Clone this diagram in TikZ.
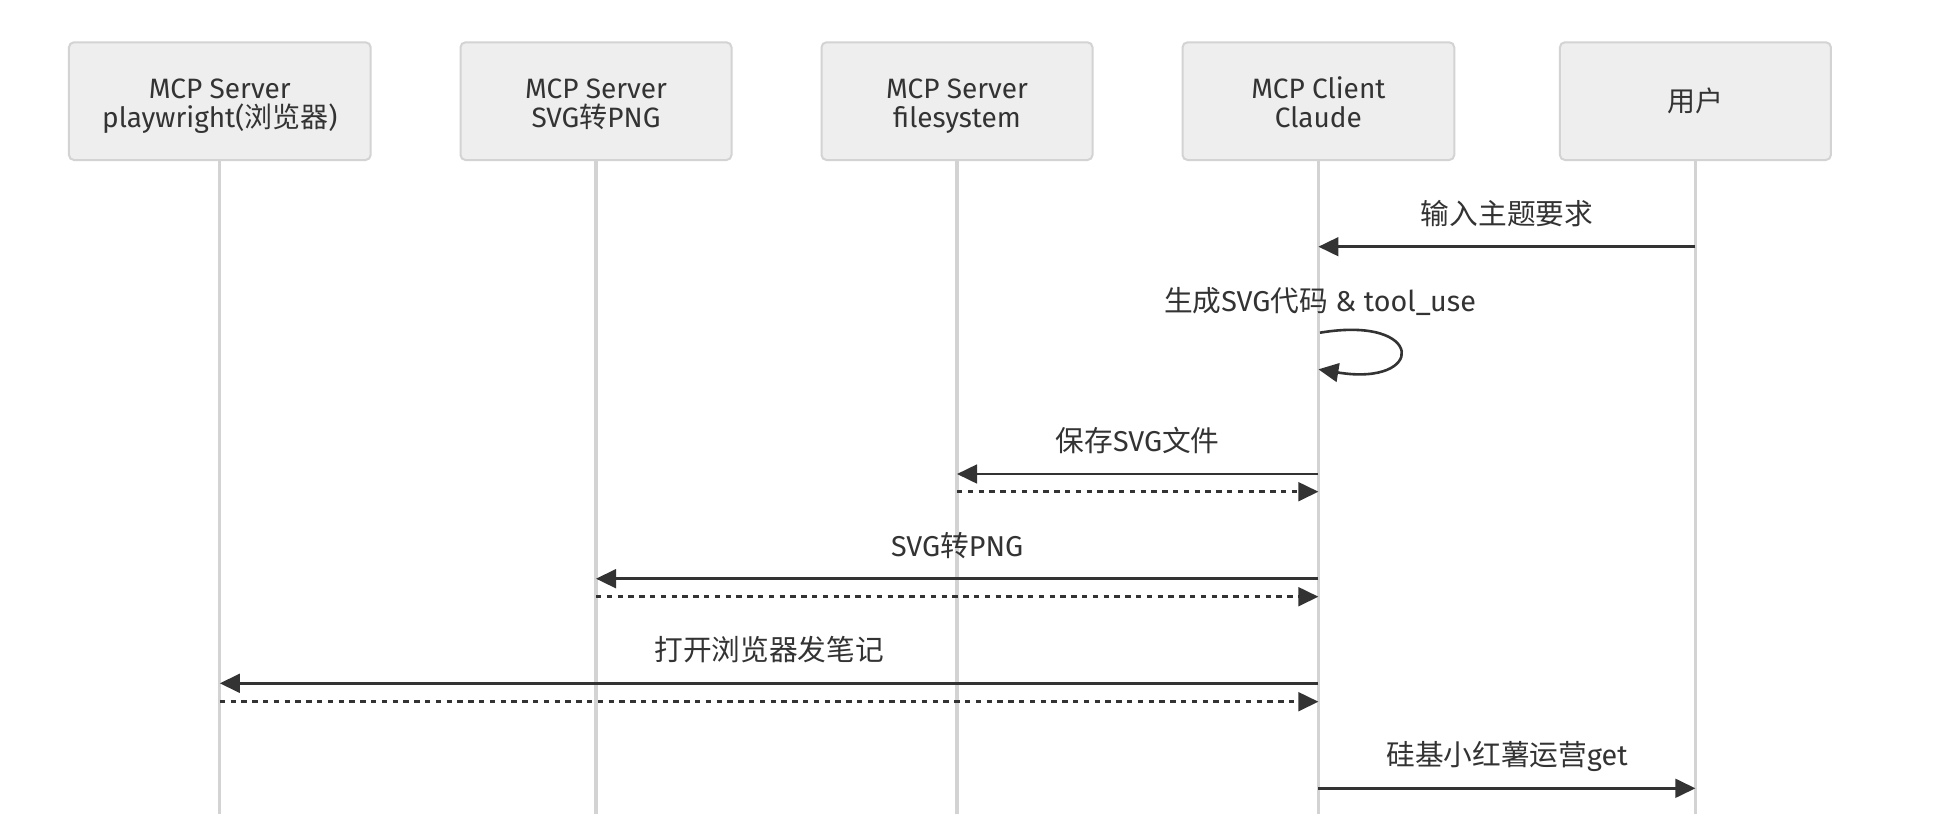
\documentclass[tikz,border=0pt]{standalone}
\usepackage{fontspec}
\setmainfont{Fira Sans}
\newfontfamily\cjk{Noto Sans CJK SC}
\usetikzlibrary{arrows.meta}
\definecolor{boxfill}{HTML}{EEEEEE}
\definecolor{boxline}{HTML}{D3D3D3}
\definecolor{lifecol}{HTML}{D3D3D3}
\definecolor{ink}{HTML}{333333}
\begin{document}
\begin{tikzpicture}[x=1pt,y=-1pt,
  actorbox/.style={draw=boxline, line width=2pt, fill=boxfill, rounded corners=5pt,
    minimum height=117.7pt, inner sep=0pt},
  actortext/.style={anchor=base, inner sep=0pt, text=ink, font=\fontsize{28}{29}\selectfont},
  lifeln/.style={draw=lifecol, line width=3.2pt},
  msg/.style={draw=ink, line width=2.6pt, -{Triangle[length=20pt,width=18.7pt]}},
  reply/.style={msg, dash pattern=on 5.4pt off 5.4pt},
  lbl/.style={anchor=base, inner sep=0pt, text=ink, font=\fontsize{28.7}{30}\selectfont}
]
\useasboundingbox[fill=white] (0,0) rectangle (1936,814);

% lifeline bottoms
\coordinate (b1) at (219.8,814);
\coordinate (b2) at (596,814);
\coordinate (b3) at (957,814);
\coordinate (b4) at (1318.4,814);
\coordinate (b5) at (1695.4,814);

% actor boxes
\node[actorbox, minimum width=301.7pt] (a1) at (219.8,101.15) {};
\node[actorbox, minimum width=271pt] (a2) at (596,101.15) {};
\node[actorbox, minimum width=271pt] (a3) at (957,101.15) {};
\node[actorbox, minimum width=271.7pt] (a4) at (1318.4,101.15) {};
\node[actorbox, minimum width=271pt] (a5) at (1695.4,101.15) {};

% lifelines
\draw[lifeln] (a1.south) -- (b1);
\draw[lifeln] (a2.south) -- (b2);
\draw[lifeln] (a3.south) -- (b3);
\draw[lifeln] (a4.south) -- (b4);
\draw[lifeln] (a5.south) -- (b5);

% actor texts
\node[actortext] (a1t1) at (219.8,98.3) {MCP Server};
\node[actortext] (a1t2) at (219.8,127.3) {playwright({\cjk 浏览器})};
\node[actortext] (a2t1) at (596,98.3) {MCP Server};
\node[actortext] (a2t2) at (596,127.3) {SVG{\cjk 转}PNG};
\node[actortext] (a3t1) at (957,98.3) {MCP Server};
\node[actortext] (a3t2) at (957,127.3) {filesystem};
\node[actortext] (a4t1) at (1318.4,98.3) {MCP Client};
\node[actortext] (a4t2) at (1318.4,127.3) {Claude};
\node[actortext] (a5t) at (1695.4,111) {\cjk 用户};

% message 1
\coordinate (m1u) at (1695.4,246.7);
\coordinate (m1c) at (1318.4,246.7);
\draw[msg] (m1u) -- (m1c);
\node[lbl] (l1) at (1507,224.2) {\cjk 输入主题要求};

% self message
\coordinate (s0) at (1320,332.7);
\coordinate (s1) at (1318.4,369.3);
\draw[msg] (s0) .. controls (1426,314.8) and (1426,387) .. (s1);
\node[lbl] (l2) at (1320,311.7) {{\cjk 生成}SVG{\cjk 代码} \& tool\_use};

% message 3
\coordinate (m3c) at (1318.4,474);
\coordinate (m3f) at (957,474);
\coordinate (r3f) at (957,491.7);
\coordinate (r3c) at (1318.4,491.7);
\draw[msg] (m3c) -- (m3f);
\draw[reply] (r3f) -- (r3c);
\node[lbl] (l3) at (1137.7,451.5) {{\cjk 保存}SVG{\cjk 文件}};

% message 4
\coordinate (m4c) at (1318.4,578.7);
\coordinate (m4s) at (596,578.7);
\coordinate (r4s) at (596,596.7);
\coordinate (r4c) at (1318.4,596.7);
\draw[msg] (m4c) -- (m4s);
\draw[reply] (r4s) -- (r4c);
\node[lbl] (l4) at (957.2,556.2) {SVG{\cjk 转}PNG};

% message 5
\coordinate (m5c) at (1318.4,683.3);
\coordinate (m5p) at (219.8,683.3);
\coordinate (r5p) at (219.8,701.7);
\coordinate (r5c) at (1318.4,701.7);
\draw[msg] (m5c) -- (m5p);
\draw[reply] (r5p) -- (r5c);
\node[lbl] (l5) at (769.1,660.8) {\cjk 打开浏览器发笔记};

% message 6
\coordinate (m6c) at (1318.4,788.3);
\coordinate (m6u) at (1695.4,788.3);
\draw[msg] (m6c) -- (m6u);
\node[lbl] (l6) at (1507,765.8) {{\cjk 硅基小红薯运营}get};
\end{tikzpicture}
\end{document}
